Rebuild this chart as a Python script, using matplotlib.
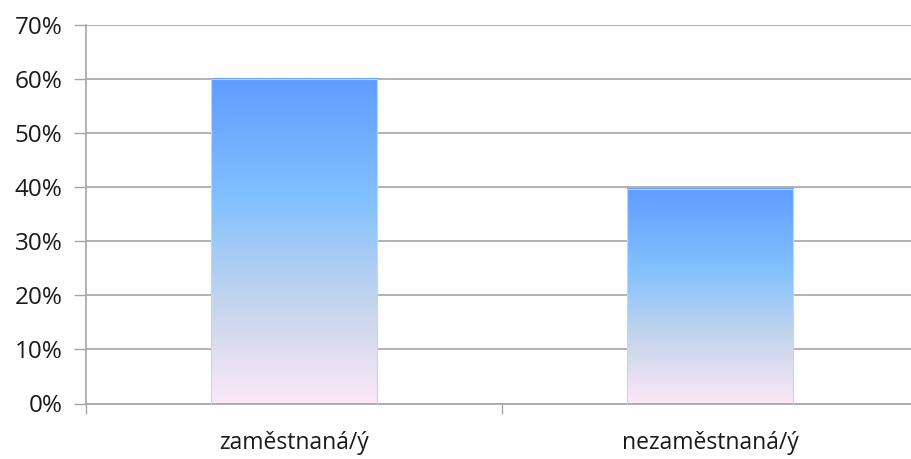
import numpy as np
import matplotlib
matplotlib.use('Agg')
import matplotlib.pyplot as plt
from matplotlib.colors import LinearSegmentedColormap
from matplotlib.ticker import FuncFormatter, FixedLocator

# data
categories = ['zaměstnaná/ý', 'nezaměstnaná/ý']
values = [60.0, 39.6]
y_ticks = [0, 10, 20, 30, 40, 50, 60, 70]

plt.rcParams['font.family'] = ['Open Sans', 'DejaVu Sans']

fig = plt.figure(figsize=(9.12, 4.59), dpi=100)
W, H = 912, 459
ax = fig.add_axes([86 / W, 1 - 403.5 / H, 832 / W, (403.5 - 25) / H])

grad = LinearSegmentedColormap.from_list(
    'bar', [(0.0, '#FCE8F7'), (0.3, '#C6D5EC'), (0.62, '#84C1FF'), (1.0, '#5E9DFF')])

x = np.arange(len(categories))
bars = ax.bar(x, values, width=0.4, color='none', edgecolor='none', zorder=3)
g = np.linspace(0, 1, 256).reshape(-1, 1)
for b in bars:
    x0, w, h = b.get_x(), b.get_width(), b.get_height()
    ax.imshow(g, cmap=grad, origin='lower', aspect='auto',
              extent=[x0, x0 + w, 0, h], zorder=3, interpolation='bilinear')
    ax.add_patch(plt.Rectangle((x0, 0), w, h, fill=False, edgecolor='#BBD6FF',
                               linewidth=0.8, zorder=4))

ax.set_xlim(-0.5, len(categories) - 0.5)
ax.set_ylim(0, 70)
ax.set_yticks(y_ticks)
ax.yaxis.set_major_formatter(FuncFormatter(lambda v, p: f'{v:.0f}%'))
ax.yaxis.grid(True, color='#A6A6A6', linewidth=1.2, zorder=0)
ax.set_axisbelow(True)

ax.set_xticks(x)
ax.set_xticklabels(categories)
ax.xaxis.set_minor_locator(FixedLocator([-0.5, 0.5, 1.5]))
ax.tick_params(axis='x', which='major', length=0, pad=20, labelsize=16.5, labelcolor='#1a1a1a')
ax.tick_params(axis='x', which='minor', length=7, width=1, color='#A6A6A6')
ax.tick_params(axis='y', length=9, width=1, color='#A6A6A6', pad=8, labelsize=17.5,
               labelcolor='#1a1a1a')

for s in ['top', 'right']:
    ax.spines[s].set_visible(False)
for s in ['left', 'bottom']:
    ax.spines[s].set_color('#A6A6A6')
    ax.spines[s].set_linewidth(1.2)

fig.savefig('out.png', dpi=100)
